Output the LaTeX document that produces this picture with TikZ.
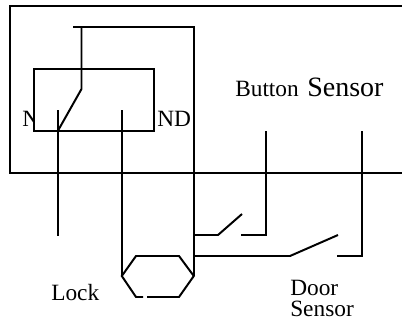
\documentclass[tikz,border=0pt]{standalone}
\usepackage{fontspec}
\setmainfont{Liberation Serif}
\tikzset{wire/.style={line width=1.48pt,black,line cap=butt,line join=miter},
  lbl/.style={inner sep=0pt,anchor=base west,black,font=\fontsize{17.5pt}{17.5pt}\selectfont}}
\begin{document}
\begin{tikzpicture}[x=0.75pt,y=-0.75pt]
\useasboundingbox (0,0) rectangle (402,321);
\node[lbl] (nl) at (22,126) {N};
\node[lbl] (nd) at (157,126) {ND};
\draw[wire,fill=white] (33.8,69) rectangle (153.8,131);
\draw[wire] (402,6) -- (9.8,6) -- (9.8,173) -- (402,173);
\draw[wire] (73,27) -- (193.8,27) -- (193.8,276);
\draw[wire] (81.5,27) -- (81.5,89) -- (57.8,131);
\draw[wire] (57.8,110) -- (57.8,236);
\draw[wire] (121.8,110) -- (121.8,276);
\draw[wire] (143,297) -- (136,297) -- (121.8,276) -- (136,256) -- (179,256) -- (193.8,276) -- (179,297) -- (147,297);
\draw[wire] (193.8,235) -- (218,235) -- (242,214);
\draw[wire] (241,235) -- (265.7,235) -- (265.7,131);
\draw[wire] (193.8,256) -- (290,256) -- (338,235);
\draw[wire] (337,256) -- (361.7,256) -- (361.7,131);
\node[lbl] (lock) at (51,300) {Lock};
\node[lbl] (bt) at (235,96.5) {Button};
\node[lbl,font=\fontsize{21pt}{21pt}\selectfont] (ss) at (307,96.5) {Sensor};
\node[lbl] (d) at (290,295) {Door};
\node[lbl] (s) at (290,316.7) {Sensor};
\end{tikzpicture}
\end{document}
